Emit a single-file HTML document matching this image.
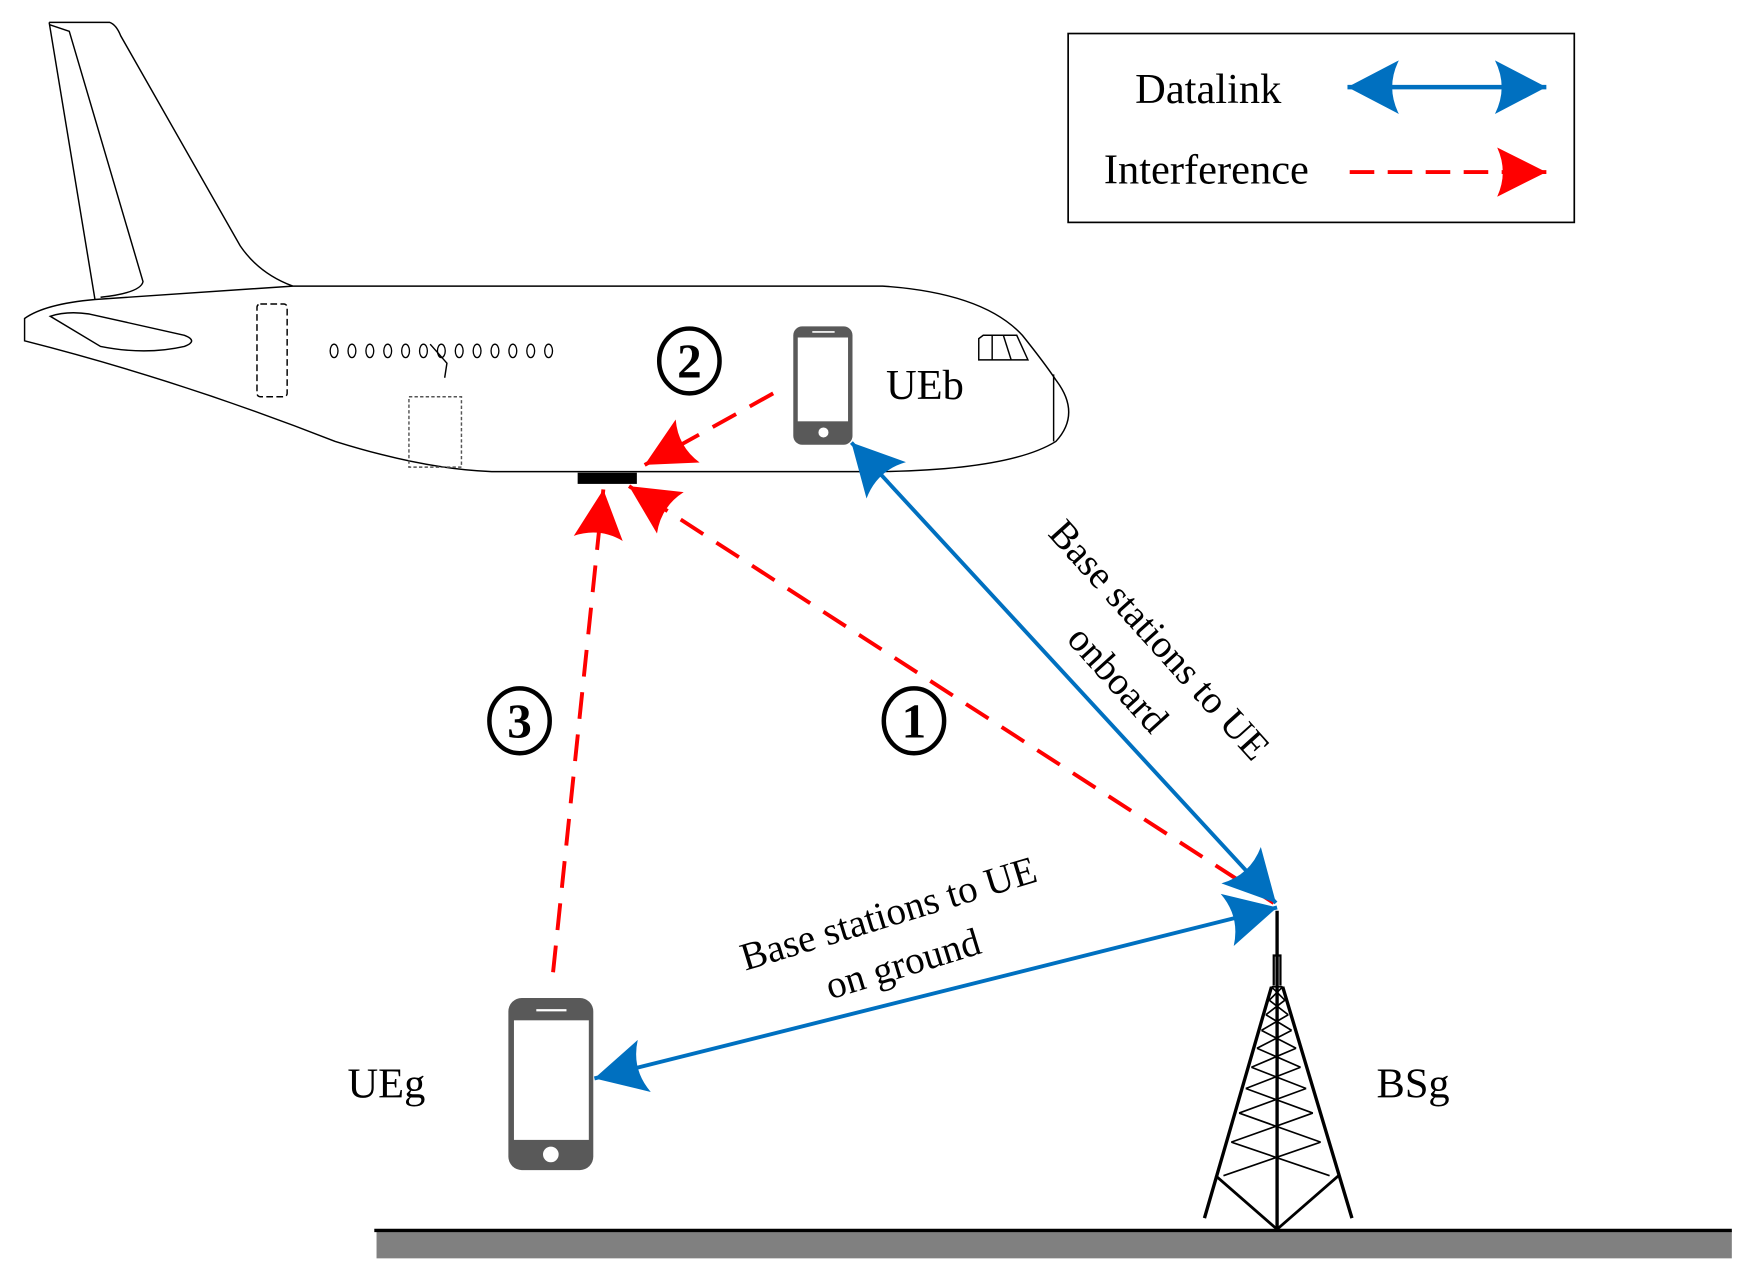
<!DOCTYPE html>
<html><head><meta charset="utf-8"><style>
html,body{margin:0;padding:0;background:#fff;}
svg{display:block;}
text{font-family:"Liberation Serif",serif;fill:#000;}
</style></head><body>
<svg width="1743" height="1274" viewBox="0 0 1560 1140" preserveAspectRatio="none" xmlns="http://www.w3.org/2000/svg">
<defs>
<marker id="ab" markerUnits="userSpaceOnUse" markerWidth="60" markerHeight="60" refX="0" refY="0" viewBox="-50 -30 60 60" orient="auto-start-reverse">
<path d="M0,0 L-46,-24 Q-34,0 -46,24 Z" fill="#0070c0"/></marker>
<marker id="ar" markerUnits="userSpaceOnUse" markerWidth="60" markerHeight="60" refX="0" refY="0" viewBox="-50 -30 60 60" orient="auto">
<path d="M0,0 L-44,-22 Q-34,0 -44,22 Z" fill="#ff0000"/></marker>
</defs>

<rect x="956" y="30" width="453" height="169" fill="#fff" stroke="#000" stroke-width="1.5"/>
<text x="1016" y="92" font-size="38">Datalink</text>
<text x="988" y="164" font-size="38">Interference</text>
<line x1="1206" y1="78" x2="1384" y2="78" stroke="#0070c0" stroke-width="4" marker-start="url(#ab)" marker-end="url(#ab)"/>
<line x1="1208" y1="154" x2="1384" y2="154" stroke="#ff0000" stroke-width="3.5" stroke-dasharray="22 12" marker-end="url(#ar)"/>

<g fill="none" stroke="#000" stroke-width="1.3">
<path d="M44,20 L98,20 Q104,22 108,32 L215,220 Q232,245 262,256"/>
<path d="M44,20 L85,268"/>
<path d="M44,22 L62,28 L128,252 Q126,262 90,266"/>
<path d="M262,256 Q420,255 790,256 Q880,262 915,300 Q935,325 945,340 Q968,370 945,395 Q905,420 790,422 L440,422 Q380,420 300,395 Q160,340 22,305 L22,285 Q40,272 85,268 L262,256"/>
<path d="M45,283 Q60,278 80,281 L165,300 Q178,305 165,310 Q130,318 90,310 Z"/>
<line x1="943" y1="335" x2="943" y2="395"/>
<path d="M876,303 L876,322 L920,322 L910,300 L880,300 Z"/>
<line x1="888" y1="300" x2="888" y2="322"/><line x1="898" y1="300" x2="905" y2="322"/>
<rect x="230" y="272" width="27" height="83" rx="3" stroke-dasharray="6 3"/>
<rect x="366" y="355" width="47" height="63" stroke-dasharray="3 2" stroke="#555"/>
<path d="M385,308 L400,325 L398,338" />
</g>
<g fill="none" stroke="#000" stroke-width="1.2">
<ellipse cx="299" cy="314" rx="3.5" ry="6"/><ellipse cx="315" cy="314" rx="3.5" ry="6"/><ellipse cx="331" cy="314" rx="3.5" ry="6"/><ellipse cx="347" cy="314" rx="3.5" ry="6"/><ellipse cx="363" cy="314" rx="3.5" ry="6"/><ellipse cx="379" cy="314" rx="3.5" ry="6"/><ellipse cx="395" cy="314" rx="3.5" ry="6"/><ellipse cx="411" cy="314" rx="3.5" ry="6"/><ellipse cx="427" cy="314" rx="3.5" ry="6"/><ellipse cx="443" cy="314" rx="3.5" ry="6"/><ellipse cx="459" cy="314" rx="3.5" ry="6"/><ellipse cx="475" cy="314" rx="3.5" ry="6"/><ellipse cx="491" cy="314" rx="3.5" ry="6"/>
</g>
<rect x="517" y="423" width="53" height="10" fill="#000"/>

<rect x="710" y="292" width="53" height="106" rx="8" fill="#595959"/>
<rect x="714" y="302" width="45" height="75" fill="#fff"/>
<line x1="727" y1="297" x2="747" y2="297" stroke="#fff" stroke-width="1.5"/>
<circle cx="737" cy="387" r="4.5" fill="#fff"/>
<text x="793" y="357" font-size="38">UEb</text>

<rect x="455" y="893" width="76" height="154" rx="12" fill="#595959"/>
<rect x="460" y="913" width="67" height="107" fill="#fff"/>
<line x1="480" y1="904" x2="507" y2="904" stroke="#fff" stroke-width="2"/>
<circle cx="493" cy="1033" r="7" fill="#fff"/>
<text x="311" y="982" font-size="38">UEg</text>
<text x="1232" y="982" font-size="38">BSg</text>

<g fill="none" stroke="#000" stroke-width="4">
<ellipse cx="617" cy="323" rx="27" ry="29"/>
<ellipse cx="465" cy="645" rx="27" ry="29"/>
<ellipse cx="818" cy="645" rx="27" ry="29"/>
</g>
<g font-weight="bold" font-size="44" text-anchor="middle">
<text x="617" y="338">2</text>
<text x="465" y="660">3</text>
<text x="818" y="660">1</text>
</g>

<g stroke="#ff0000" stroke-width="3.5" stroke-dasharray="24 14" fill="none">
<line x1="692" y1="352" x2="577" y2="416" marker-end="url(#ar)"/>
<line x1="1140" y1="808" x2="563" y2="435" marker-end="url(#ar)"/>
<line x1="495" y1="870" x2="540" y2="438" marker-end="url(#ar)"/>
</g>

<line x1="1142" y1="808" x2="762" y2="396" stroke="#0070c0" stroke-width="3.5" marker-start="url(#ab)" marker-end="url(#ab)"/>
<line x1="1143" y1="812" x2="532" y2="965" stroke="#0070c0" stroke-width="3.5" marker-start="url(#ab)" marker-end="url(#ab)"/>

<text x="1035" y="583" font-size="35" text-anchor="middle" transform="rotate(48 1035 575)">Base stations to UE</text>
<text x="998" y="618" font-size="35" text-anchor="middle" transform="rotate(48 998 610)">onboard</text>
<text x="795" y="829" font-size="35" text-anchor="middle" transform="rotate(-17 795 817)">Base stations to UE</text>
<text x="808" y="874" font-size="35" text-anchor="middle" transform="rotate(-17 808 862)">on ground</text>

<g stroke="#000" fill="none">
<line x1="1143" y1="815" x2="1143" y2="1100" stroke-width="3"/>
<path d="M1140,882 L1140,855 L1146,855 L1146,882" stroke-width="2"/>
<path d="M1138,883 L1078,1090" stroke-width="3"/>
<path d="M1148,883 L1210,1090" stroke-width="3"/>
<path d="M1088,1052 L1143,1100 L1198,1052" stroke-width="2.5"/>
<g stroke-width="1.5">
<line x1="1138" y1="883" x2="1148" y2="883"/>
<path d="M1138,883 L1150,895 M1148,883 L1136,895"/>
<path d="M1136,895 L1153,908 M1150,895 L1133,908"/>
<path d="M1133,908 L1156,922 M1153,908 L1129,922"/>
<path d="M1129,922 L1160,938 M1156,922 L1125,938"/>
<path d="M1125,938 L1164,955 M1160,938 L1120,955"/>
<path d="M1120,955 L1169,974 M1164,955 L1115,974"/>
<path d="M1115,974 L1175,996 M1169,974 L1109,996"/>
<path d="M1109,996 L1182,1022 M1175,996 L1102,1022"/>
<path d="M1102,1022 L1190,1052 M1182,1022 L1095,1052"/>
<path d="M1088,1052 L1198,1052" stroke-width="0"/>
</g>
</g>

<rect x="337" y="1101" width="1213" height="25" fill="#808080"/>
<line x1="335" y1="1101" x2="1550" y2="1101" stroke="#000" stroke-width="3"/>
</svg>
</body></html>
